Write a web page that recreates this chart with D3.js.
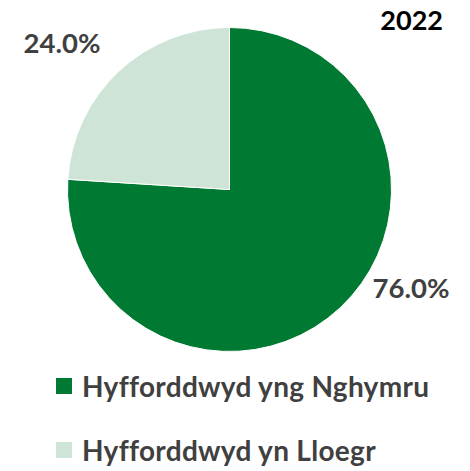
<!DOCTYPE html>
<html lang="en">
<head>
    <meta charset="UTF-8">
    <script src="https://d3js.org/d3.v7.min.js"></script>
    <title>2022</title>
    <style>
        html, body {
            margin: 0px;
            padding: 0px;
            background-color: #ffffff;
        }
        text {
            font-family: Lato, "Open Sans", sans-serif;
            font-weight: bold;
        }
    </style>
</head>
<body>
    <div id="chart"></div>
    <script>
        const categories = ['Hyfforddwyd yng Nghymru', 'Hyfforddwyd yn Lloegr'];
        const values = [76.0, 24.0];
        const colours = ['#007a33', '#cde4d7'];
        const title = '2022';

        let width = 470, height = 471;
        let cx = 229.5, cy = 189.5, radius = 162;

        let svg = d3.select('#chart').append('svg')
            .attr('width', width).attr('height', height);

        let data = categories.map((c, i) => ({ name: c, value: values[i], colour: colours[i] }));

        let pie = d3.pie().sort(null).value(d => d.value);
        let arc = d3.arc().innerRadius(0).outerRadius(radius);

        let g = svg.append('g').attr('transform', `translate(${cx},${cy})`);
        g.selectAll('path')
            .data(pie(data))
            .join('path')
            .attr('d', arc)
            .attr('fill', d => d.data.colour)
            .attr('stroke', '#ffffff')
            .attr('stroke-width', 1);

        // percentage labels, placed outside the pie like the original
        let labelPos = [[411, 298], [62, 53]];
        svg.selectAll('text.pct')
            .data(data)
            .join('text')
            .attr('class', 'pct')
            .attr('x', (d, i) => labelPos[i][0])
            .attr('y', (d, i) => labelPos[i][1])
            .attr('text-anchor', 'middle')
            .attr('font-size', 27.5)
            .attr('fill', '#404040')
            .text(d => d.value.toFixed(1) + '%');

        svg.append('text')
            .attr('x', 443).attr('y', 30)
            .attr('text-anchor', 'end')
            .attr('font-size', 27)
            .attr('fill', '#000000')
            .text(title);

        // legend
        let legend = svg.selectAll('g.legend')
            .data(data)
            .join('g')
            .attr('class', 'legend')
            .attr('transform', (d, i) => `translate(56,${378 + i * 64})`);
        legend.append('rect')
            .attr('width', 16).attr('height', 16)
            .attr('fill', d => d.colour);
        legend.append('text')
            .attr('x', 26).attr('y', 19)
            .attr('font-size', 28)
            .attr('letter-spacing', 0.3)
            .attr('fill', '#404040')
            .text(d => d.name);
    </script>
</body>
</html>
